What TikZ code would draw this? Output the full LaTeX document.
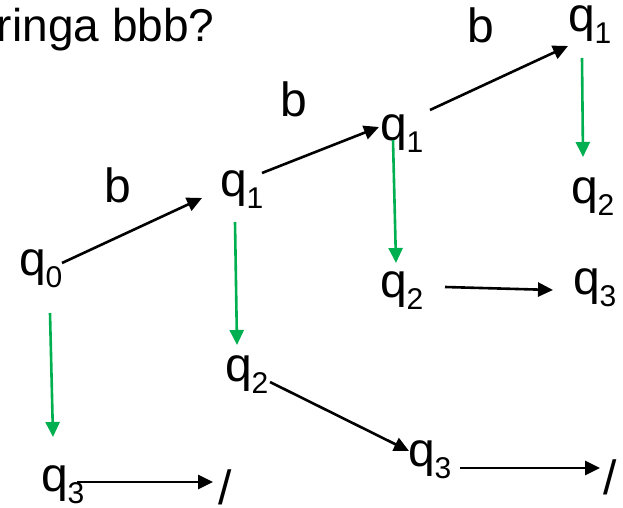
\documentclass[tikz,border=0pt]{standalone}
\usepackage{fontspec}
\setmainfont{Liberation Sans}
\usetikzlibrary{arrows.meta}
\definecolor{pgreen}{RGB}{0,176,80}
\newcommand{\qsub}[1]{q\raisebox{-12bp}{\fontsize{30bp}{30bp}\selectfont #1}}
\begin{document}
\begin{tikzpicture}[x=1bp,y=-1bp,
  lbl/.style={inner sep=0pt,outer sep=0pt,anchor=base west,font=\fontsize{48bp}{56bp}\selectfont},
  blk/.style={line width=2.6bp,-{Triangle[length=15bp,width=14bp]}},
  grn/.style={blk,color=pgreen}]
\useasboundingbox (0,0) rectangle (623,508);
% labels
\node[lbl,font=\fontsize{46bp}{56bp}\selectfont] (title) at (-3,42) {ringa bbb?};
\node[lbl] (b1) at (104,203) {b};
\node[lbl] (b2) at (280,117) {b};
\node[lbl] (b3) at (467,43) {b};
% states
\node[lbl] (q0) at (19,275) {\qsub{0}};
\node[lbl] (q1a) at (220,197) {\qsub{1}};
\node[lbl] (q1b) at (380,141) {\qsub{1}};
\node[lbl] (q1c) at (568,32) {\qsub{1}};
\node[lbl] (q2r) at (571,204) {\qsub{2}};
\node[lbl] (q2m) at (380,297) {\qsub{2}};
\node[lbl] (q3r) at (573,294) {\qsub{3}};
\node[lbl] (q2l) at (225,381) {\qsub{2}};
\node[lbl] (q3m) at (408,466) {\qsub{3}};
\node[lbl] (q3b) at (41,491) {\qsub{3}};
\node[lbl] (sb) at (218,504) {/};
\node[lbl] (sr) at (603,494) {/};
% black transitions
\draw[blk] ([shift={(43,-12)}]q0.base west) -- ([shift={(-18,1)}]q1a.base west);
\draw[blk] ([shift={(42,-24)}]q1a.base west) -- ([shift={(-1,-14)}]q1b.base west);
\draw[blk] ([shift={(50,-31)}]q1b.base west) -- ([shift={(0,14)}]q1c.base west);
\draw[blk] ([shift={(65,-10)}]q2m.base west) -- ([shift={(-20,-4)}]q3r.base west);
\draw[blk] ([shift={(45,1)}]q2l.base west) -- ([shift={(1,-15)}]q3m.base west);
\draw[blk] ([shift={(36,-9)}]q3b.base west) -- ([shift={(-5,-22)}]sb.base west);
\draw[blk] ([shift={(52,2)}]q3m.base west) -- ([shift={(-3,-26)}]sr.base west);
% green transitions
\draw[grn] ([shift={(14,26)}]q1c.base west) -- ([shift={(12,-47)}]q2r.base west);
\draw[grn] ([shift={(13,-1)}]q1b.base west) -- ([shift={(16,-34)}]q2m.base west);
\draw[grn] ([shift={(15,25)}]q1a.base west) -- ([shift={(12,-36)}]q2l.base west);
\draw[grn] ([shift={(31,38)}]q0.base west) -- ([shift={(12,-54)}]q3b.base west);
\end{tikzpicture}
\end{document}
